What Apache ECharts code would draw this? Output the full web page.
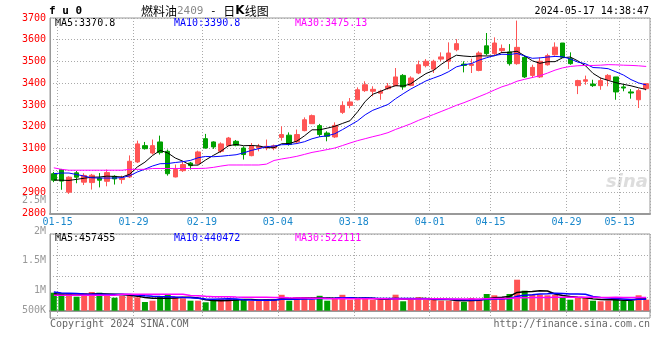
<!DOCTYPE html>
<html>
<head>
<meta charset="utf-8">
<script src="https://cdn.jsdelivr.net/npm/echarts@6/dist/echarts.min.js"></script>
<style>
  html, body { margin: 0; padding: 0; background: #fff; }
  #chart { width: 660px; height: 360px; }
</style>
</head>
<body>
<div id="chart"></div>
<script>
// 交易日
const dates = [
  '01-15', '01-16', '01-17', '01-18', '01-19', '01-22', '01-23', '01-24', '01-25', '01-26',
  '01-29', '01-30', '01-31', '02-01', '02-02', '02-05', '02-06', '02-07', '02-08', '02-19',
  '02-20', '02-21', '02-22', '02-23', '02-26', '02-27', '02-28', '02-29', '03-01', '03-04',
  '03-05', '03-06', '03-07', '03-08', '03-11', '03-12', '03-13', '03-14', '03-15', '03-18',
  '03-19', '03-20', '03-21', '03-22', '03-25', '03-26', '03-27', '03-28', '03-29', '04-01',
  '04-02', '04-03', '04-08', '04-09', '04-10', '04-11', '04-12', '04-15', '04-16', '04-17',
  '04-18', '04-19', '04-22', '04-23', '04-24', '04-25', '04-26', '04-29', '04-30', '05-06',
  '05-07', '05-08', '05-09', '05-10', '05-13', '05-14', '05-15', '05-16', '05-17'
]
const tickLabels = ['01-15', '01-29', '02-19', '03-04', '03-18', '04-01', '04-15', '04-29', '05-13']

const opens = [
  2984, 3003, 2899, 2988, 2945, 2943, 2964, 2949, 2972, 2957,
  2969, 3038, 3113, 3079, 3130, 3087, 2969, 2998, 3033, 3030,
  3145, 3130, 3087, 3113, 3133, 3102, 3067, 3102, 3102, 3102,
  3151, 3161, 3130, 3182, 3214, 3205, 3171, 3153, 3266, 3298,
  3324, 3366, 3363, 3354, 3375, 3389, 3436, 3390, 3447, 3481,
  3465, 3511, 3501, 3554, 3488, 3482, 3459, 3572, 3536, 3550,
  3544, 3490, 3519, 3436, 3429, 3485, 3531, 3585, 3513, 3389,
  3409, 3396, 3389, 3416, 3429, 3383, 3360, 3324, 3375
]
const closes = [
  2954, 2950, 2968, 2968, 2976, 2977, 2954, 2989, 2960, 2964,
  3041, 3121, 3099, 3113, 3081, 2984, 3003, 3026, 3021, 3084,
  3102, 3107, 3121, 3148, 3115, 3072, 3113, 3110, 3110, 3112,
  3164, 3118, 3164, 3232, 3251, 3164, 3156, 3206, 3298, 3314,
  3370, 3393, 3372, 3363, 3387, 3429, 3383, 3424, 3485, 3501,
  3501, 3521, 3539, 3582, 3482, 3488, 3539, 3536, 3585, 3560,
  3490, 3565, 3429, 3473, 3501, 3527, 3566, 3519, 3490, 3412,
  3416, 3389, 3412, 3436, 3360, 3378, 3355, 3366, 3398
]
const lows = [
  2945, 2910, 2891, 2940, 2932, 2911, 2921, 2926, 2934, 2938,
  2964, 3033, 3095, 3072, 3072, 2975, 2967, 2992, 3003, 3026,
  3099, 3098, 3079, 3110, 3110, 3049, 3064, 3087, 3092, 3092,
  3136, 3113, 3122, 3179, 3213, 3153, 3133, 3148, 3259, 3285,
  3321, 3360, 3340, 3324, 3370, 3386, 3370, 3386, 3442, 3473,
  3447, 3501, 3465, 3547, 3450, 3447, 3455, 3528, 3528, 3540,
  3481, 3485, 3424, 3424, 3424, 3481, 3527, 3516, 3485, 3350,
  3393, 3383, 3370, 3386, 3324, 3363, 3329, 3286, 3367
]
const highs = [
  2992, 3006, 2972, 2997, 2986, 2983, 2987, 3003, 2977, 2975,
  3068, 3136, 3130, 3141, 3159, 3095, 3026, 3038, 3038, 3090,
  3167, 3133, 3128, 3153, 3139, 3110, 3125, 3121, 3141, 3118,
  3202, 3174, 3187, 3243, 3256, 3213, 3179, 3220, 3317, 3332,
  3381, 3409, 3386, 3370, 3401, 3470, 3442, 3432, 3504, 3511,
  3508, 3542, 3588, 3603, 3501, 3513, 3547, 3631, 3611, 3578,
  3580, 3688, 3527, 3485, 3519, 3536, 3588, 3585, 3542, 3416,
  3435, 3416, 3427, 3442, 3429, 3396, 3373, 3375, 3401
]
const volumes = [
  702000, 651000, 651000, 546000, 679000, 729000, 702000, 612000, 507000, 585000,
  612000, 523000, 339000, 390000, 546000, 651000, 546000, 484000, 390000, 390000,
  328000, 390000, 449000, 449000, 449000, 437000, 378000, 378000, 449000, 437000,
  620000, 390000, 523000, 523000, 437000, 581000, 390000, 488000, 620000, 429000,
  495000, 456000, 429000, 429000, 429000, 624000, 367000, 429000, 523000, 429000,
  429000, 390000, 390000, 367000, 339000, 495000, 429000, 651000, 601000, 456000,
  651000, 1209000, 780000, 624000, 624000, 601000, 624000, 495000, 429000, 495000,
  495000, 390000, 367000, 390000, 495000, 390000, 390000, 601000, 429000
]

// 图上读出的前段均线（窗口之前的数据不在图内）
const ma5Head = [2955, 2954, 2953, 2958]
const ma10Head = [2984, 2987, 2987, 2980, 2973, 2965, 2964, 2964, 2964]
const ma30Head = [
  3011, 3004, 3000, 3000, 3000, 3000, 3000, 3000, 3000, 3000,
  3004, 3004, 3004, 3008, 3008, 3008, 3008, 3008, 3008, 3008,
  3009, 3013, 3019, 3024, 3024, 3024, 3024, 3024, 3028
]
const vma5Head = [651000, 651000, 651000, 651000]
const vma10Head = [729000, 690000, 680000, 670000, 650000, 640000, 640000, 635000, 635000]
const vma30Head = [
  600000, 600000, 600000, 600000, 600000, 600000, 600000, 600000, 600000,
  640000, 640000, 640000, 640000, 640000, 640000, 640000, 640000, 640000,
  590000, 585000, 560000, 546000, 546000, 546000, 530000, 523000, 523000, 523000, 523000
]

const RED = '#ff5555'
const GREEN = '#00a000'
const MONO = '"DejaVu Sans Mono", monospace'

function movingAverage(values, n, head) {
  return values.map((v, i) => {
    if (i < n - 1) return head[i]
    let s = 0
    for (let k = i - n + 1; k <= i; k++) s += values[k]
    return +(s / n).toFixed(2)
  })
}

const kData = opens.map((o, i) => [o, closes[i], lows[i], highs[i]])
const isLabel = (index, value) => tickLabels.indexOf(value) >= 0
// 分隔线画在标注日的右边界
const isSplit = (index) => index > 0 && tickLabels.indexOf(dates[index - 1]) >= 0

const dotted = { color: '#aaaaaa', width: 1, type: [1, 2] }

function xAxisOf(gridIndex, showLabel) {
  return {
    type: 'category',
    gridIndex: gridIndex,
    data: dates,
    boundaryGap: true,
    axisLine: { show: true, lineStyle: { color: '#999', width: 2 } },
    axisTick: { show: false, interval: isSplit },
    axisLabel: {
      show: showLabel,
      interval: isLabel,
      color: '#1a88cc',
      fontFamily: MONO,
      fontSize: 10,
      margin: 4,
      padding: [0, 0, 0, 7.6]
    },
    splitLine: { show: true, interval: isSplit, lineStyle: dotted }
  }
}

function text(x, y, str, fill, align, font) {
  return {
    type: 'text',
    x: x,
    y: y,
    silent: true,
    style: {
      text: str,
      fill: fill,
      font: font || '10px ' + MONO,
      textAlign: align || 'left',
      textVerticalAlign: 'middle'
    }
  }
}

const chart = echarts.init(document.getElementById('chart'))
chart.setOption({
  animation: false,
  backgroundColor: '#fff',
  grid: [
    { left: 50, right: 10, top: 18, height: 195.7, show: true, borderColor: '#999', borderWidth: 1 },
    { left: 50, right: 10, top: 234, height: 84, show: true, borderColor: '#999', borderWidth: 1 }
  ],
  xAxis: [xAxisOf(0, true), xAxisOf(1, false)],
  yAxis: [
    {
      type: 'value',
      gridIndex: 0,
      min: 2800,
      max: 3700,
      interval: 100,
      axisLine: { show: true, lineStyle: { color: '#999' } },
      axisTick: { show: false },
      axisLabel: {
        color: '#ff0000',
        fontFamily: MONO,
        fontSize: 10,
        margin: 4,
        padding: [0, 0, 4, 0],
        formatter: (v) => String(v)
      },
      splitLine: { show: true, lineStyle: dotted }
    },
    {
      type: 'value',
      gridIndex: 1,
      min: -285000,
      max: 2991000,
      axisLine: { show: true, lineStyle: { color: '#999' } },
      axisTick: { show: false },
      axisLabel: { show: false },
      splitLine: { show: false }
    },
    {
      type: 'value',
      gridIndex: 1,
      position: 'left',
      min: 0,
      max: 4,
      interval: 1,
      axisLine: { show: false },
      axisTick: { show: false },
      axisLabel: { show: false },
      splitLine: { show: true, lineStyle: dotted }
    }
  ],
  series: [
    {
      name: 'K',
      type: 'candlestick',
      xAxisIndex: 0,
      yAxisIndex: 0,
      data: kData,
      barWidth: 5,
      itemStyle: { color: RED, color0: GREEN, borderColor: RED, borderColor0: GREEN, borderWidth: 1 }
    },
    {
      name: 'MA5', type: 'line', xAxisIndex: 0, yAxisIndex: 0, symbol: 'none',
      data: movingAverage(closes, 5, ma5Head), lineStyle: { color: '#000', width: 1 }
    },
    {
      name: 'MA10', type: 'line', xAxisIndex: 0, yAxisIndex: 0, symbol: 'none',
      data: movingAverage(closes, 10, ma10Head), lineStyle: { color: '#0000ff', width: 1 }
    },
    {
      name: 'MA30', type: 'line', xAxisIndex: 0, yAxisIndex: 0, symbol: 'none',
      data: movingAverage(closes, 30, ma30Head), lineStyle: { color: '#ff00ff', width: 1 }
    },
    {
      name: 'VOL',
      type: 'bar',
      xAxisIndex: 1,
      yAxisIndex: 1,
      barWidth: 6,
      data: volumes.map((v, i) => ({
        value: v,
        itemStyle: { color: closes[i] >= opens[i] ? RED : GREEN }
      }))
    },
    {
      name: 'VMA5', type: 'line', xAxisIndex: 1, yAxisIndex: 1, symbol: 'none',
      data: movingAverage(volumes, 5, vma5Head), lineStyle: { color: '#000', width: 1.5 }
    },
    {
      name: 'VMA10', type: 'line', xAxisIndex: 1, yAxisIndex: 1, symbol: 'none',
      data: movingAverage(volumes, 10, vma10Head), lineStyle: { color: '#0000ff', width: 1.5 }
    },
    {
      name: 'VMA30', type: 'line', xAxisIndex: 1, yAxisIndex: 1, symbol: 'none',
      data: movingAverage(volumes, 30, vma30Head), lineStyle: { color: '#ff00ff', width: 1.5 }
    }
  ],
  graphic: [
    text(49, 11, 'f u 0', '#000', 'left', 'bold 11px ' + MONO),
    {
      type: 'text',
      x: 141,
      y: 11,
      silent: true,
      style: {
        text: '{a|燃料油}{b|2409}{c| - }{a|日}{k|K}{a|线图}',
        textVerticalAlign: 'middle',
        rich: {
          a: { font: '12px "Noto Sans CJK SC"', fill: '#000' },
          b: { font: '11px ' + MONO, fill: '#888' },
          c: { font: '11px ' + MONO, fill: '#000' },
          k: { font: 'bold 12px "DejaVu Sans"', fill: '#000' }
        }
      }
    },
    text(649, 11, '2024-05-17 14:38:47', '#000', 'right'),
    text(55, 23, 'MA5:3370.8', '#000'),
    text(174, 23, 'MA10:3390.8', '#0000ff'),
    text(295, 23, 'MA30:3475.13', '#ff00ff'),
    text(55, 238.5, 'MA5:457455', '#000'),
    text(174, 238.5, 'MA10:440472', '#0000ff'),
    text(295, 238.5, 'MA30:522111', '#ff00ff'),
    text(46, 200, '2.5M', '#999', 'right'),
    text(46, 231, '2M', '#999', 'right'),
    text(46, 260, '1.5M', '#999', 'right'),
    text(46, 290.5, '1M', '#999', 'right'),
    text(46, 310.5, '500K', '#999', 'right'),
    text(50, 324, 'Copyright 2024 SINA.COM', '#666'),
    text(650, 324, 'http://finance.sina.com.cn', '#666', 'right'),
    text(606, 182, 'sina', '#dddddd', 'left', 'italic bold 18px "DejaVu Sans"')
  ]
})
</script>
</body>
</html>
